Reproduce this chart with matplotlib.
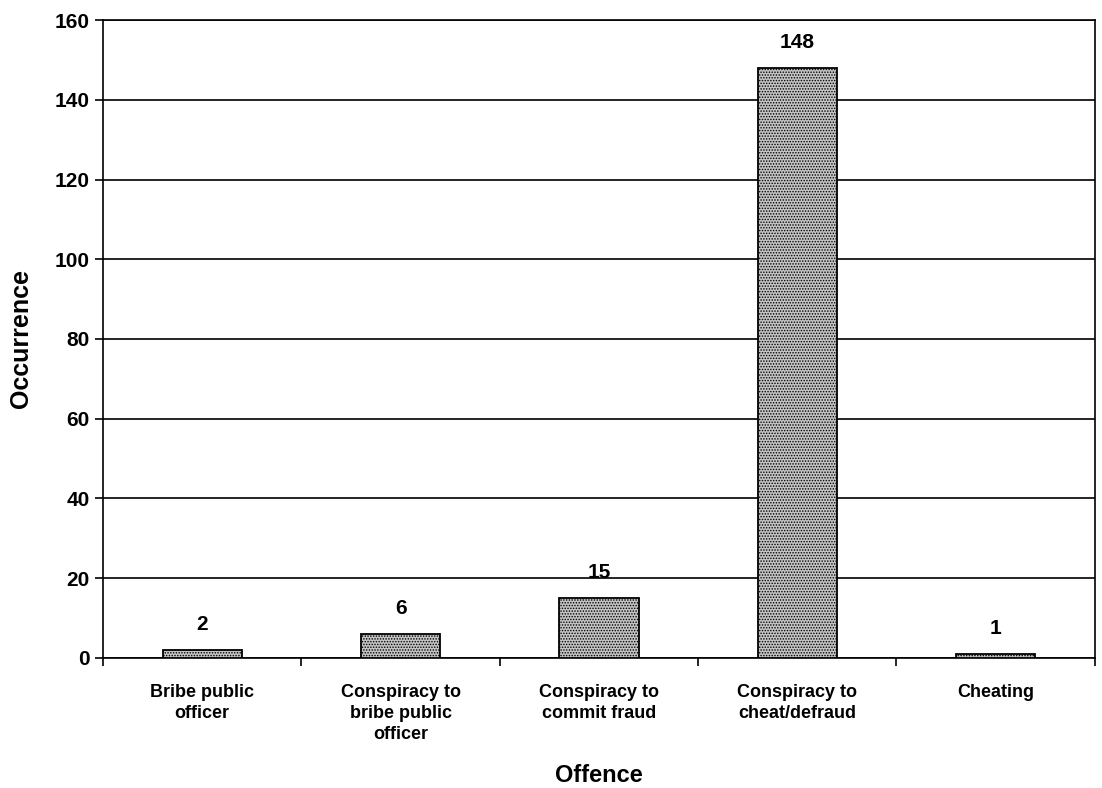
import numpy as np
import matplotlib
matplotlib.use('Agg')
import matplotlib.pyplot as plt

plt.rcParams['font.family'] = ['Liberation Sans', 'DejaVu Sans']
plt.rcParams['hatch.linewidth'] = 0.7

offences = ['Bribe public\nofficer', 'Conspiracy to\nbribe public\nofficer',
            'Conspiracy to\ncommit fraud', 'Conspiracy to\ncheat/defraud', 'Cheating']
counts = [2, 6, 15, 148, 1]

fig = plt.figure(figsize=(11.02, 7.88), dpi=100)
ax = fig.add_axes([0.0935, 0.165, 0.900, 0.8096])

x = np.arange(len(offences))
bars = ax.bar(x, counts, width=0.4, facecolor='#c4c4c4', edgecolor='black',
              linewidth=1.3, hatch='......', zorder=3)
for b, v in zip(bars, counts):
    ax.text(b.get_x() + b.get_width() / 2, v + 4, str(v), ha='center', va='bottom',
            fontsize=15, fontweight='bold')

ax.set_xlim(-0.5, len(offences) - 0.5)
ax.set_ylim(0, 160)
ax.set_yticks(np.arange(0, 161, 20))
ax.yaxis.grid(True, color='black', linewidth=1.2, zorder=0)
ax.set_xticks(x)
ax.set_xticklabels(offences, fontsize=13, fontweight='bold', va='top', linespacing=1.3)
ax.tick_params(axis='x', length=0, pad=19)
ax.set_xticks(np.arange(-0.5, len(offences), 1), minor=True)
ax.tick_params(axis='x', which='minor', length=6, width=1.2, direction='out')
ax.tick_params(axis='y', length=6, width=1.2, labelsize=15)
for lab in ax.get_yticklabels():
    lab.set_fontweight('bold')
for s in ax.spines.values():
    s.set_linewidth(1.2)

ax.set_xlabel('Offence', fontsize=17, fontweight='bold', labelpad=15)
ax.set_ylabel('Occurrence', fontsize=18, fontweight='bold', labelpad=16)

fig.savefig('out.png', dpi=100)
